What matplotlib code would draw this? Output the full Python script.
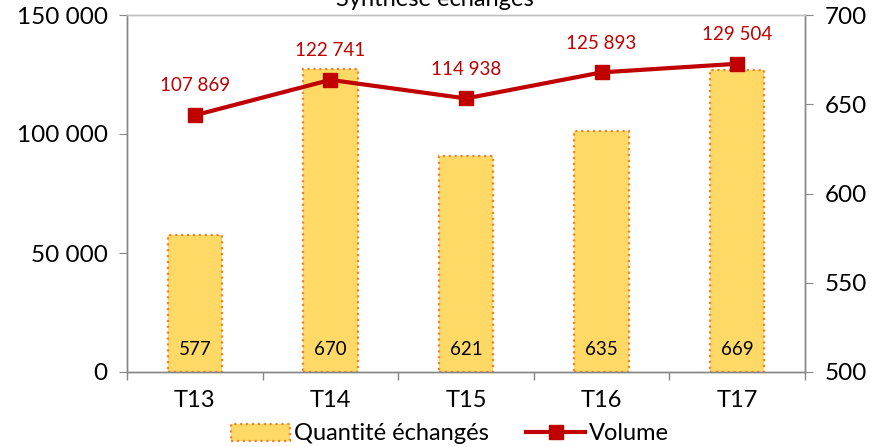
import matplotlib
matplotlib.use("Agg")
import matplotlib.pyplot as plt
import numpy as np
from matplotlib.lines import Line2D
from matplotlib.patches import Patch

plt.rcParams["font.family"] = ["Lato", "DejaVu Sans"]

QUARTERS = ["T13", "T14", "T15", "T16", "T17"]
QUANTITE = [577, 670, 621, 635, 669]            # bars, right axis
VOLUME = [107869, 122741, 114938, 125893, 129504]  # line, left axis
LEFT_TICKS = [0, 50000, 100000, 150000]
RIGHT_TICKS = [500, 550, 600, 650, 700]

BAR_FILL = "#FFD966"
BAR_EDGE = "#F4812A"
LINE_RED = "#C00000"
AXIS_GREY = "#868686"


def fmt(v):
    return f"{v:,}".replace(",", " ")


fig = plt.figure(figsize=(8.87, 4.47), dpi=100)
ax_bar = fig.add_axes([127 / 887, 75 / 447, 678 / 887, 357 / 447])
ax_line = ax_bar.twinx()

x = np.arange(len(QUARTERS))

# bars on the right-hand scale
ax_bar.bar(x, [q - 500 for q in QUANTITE], bottom=500, width=0.4,
           color=BAR_FILL, edgecolor=BAR_EDGE, linestyle=":", linewidth=1.6)
ax_bar.set_ylim(500, 700)
ax_bar.set_yticks(RIGHT_TICKS)
ax_bar.yaxis.tick_right()
for xi, q in zip(x, QUANTITE):
    ax_bar.text(xi, 512.5, str(q), ha="center", va="center", fontsize=13.5, color="black")

# line on the left-hand scale
ax_line.plot(x, VOLUME, color=LINE_RED, lw=3, marker="s", markersize=10,
             markerfacecolor=LINE_RED, markeredgecolor=LINE_RED)
ax_line.set_ylim(0, 150000)
ax_line.set_yticks(LEFT_TICKS)
ax_line.set_yticklabels([fmt(v) for v in LEFT_TICKS])
ax_line.yaxis.tick_left()
for xi, v in zip(x, VOLUME):
    ax_line.annotate(fmt(v), (xi, v), xytext=(0, 15), textcoords="offset points",
                     ha="center", va="bottom", fontsize=13.5, color=LINE_RED)

ax_bar.set_xlim(-0.5, len(QUARTERS) - 0.5)
ax_bar.set_xticks(x)
ax_bar.set_xticklabels(QUARTERS)
ax_bar.set_xticks(np.arange(-0.5, len(QUARTERS)), minor=True)
ax_bar.tick_params(axis="x", which="major", length=0, labelsize=17, pad=13)
ax_bar.tick_params(axis="x", which="minor", length=6, color=AXIS_GREY, width=1)
ax_bar.tick_params(axis="y", length=6, color=AXIS_GREY, labelsize=17.5, pad=8)
ax_line.tick_params(axis="y", length=6, color=AXIS_GREY, labelsize=17.5, pad=8)

for a in (ax_bar, ax_line):
    for s in a.spines.values():
        s.set_color(AXIS_GREY)
        s.set_linewidth(1)
    a.spines["top"].set_color("#BFBFBF")

fig.text(0.49, 441 / 447, "Synthèse échanges", ha="center", va="baseline", fontsize=17)

handles = [
    Patch(facecolor=BAR_FILL, edgecolor=BAR_EDGE, linestyle=":", linewidth=1.6),
    Line2D([0], [0], color=LINE_RED, lw=3, marker="s", markersize=10),
]
fig.legend(handles, ["Quantité échangés", "Volume"], loc="center",
           bbox_to_anchor=(450 / 887, 13 / 447), ncol=2, frameon=False,
           fontsize=17, handlelength=2.5, handletextpad=0.15, columnspacing=1.6,
           borderpad=0)

fig.savefig("out.png", dpi=100)
